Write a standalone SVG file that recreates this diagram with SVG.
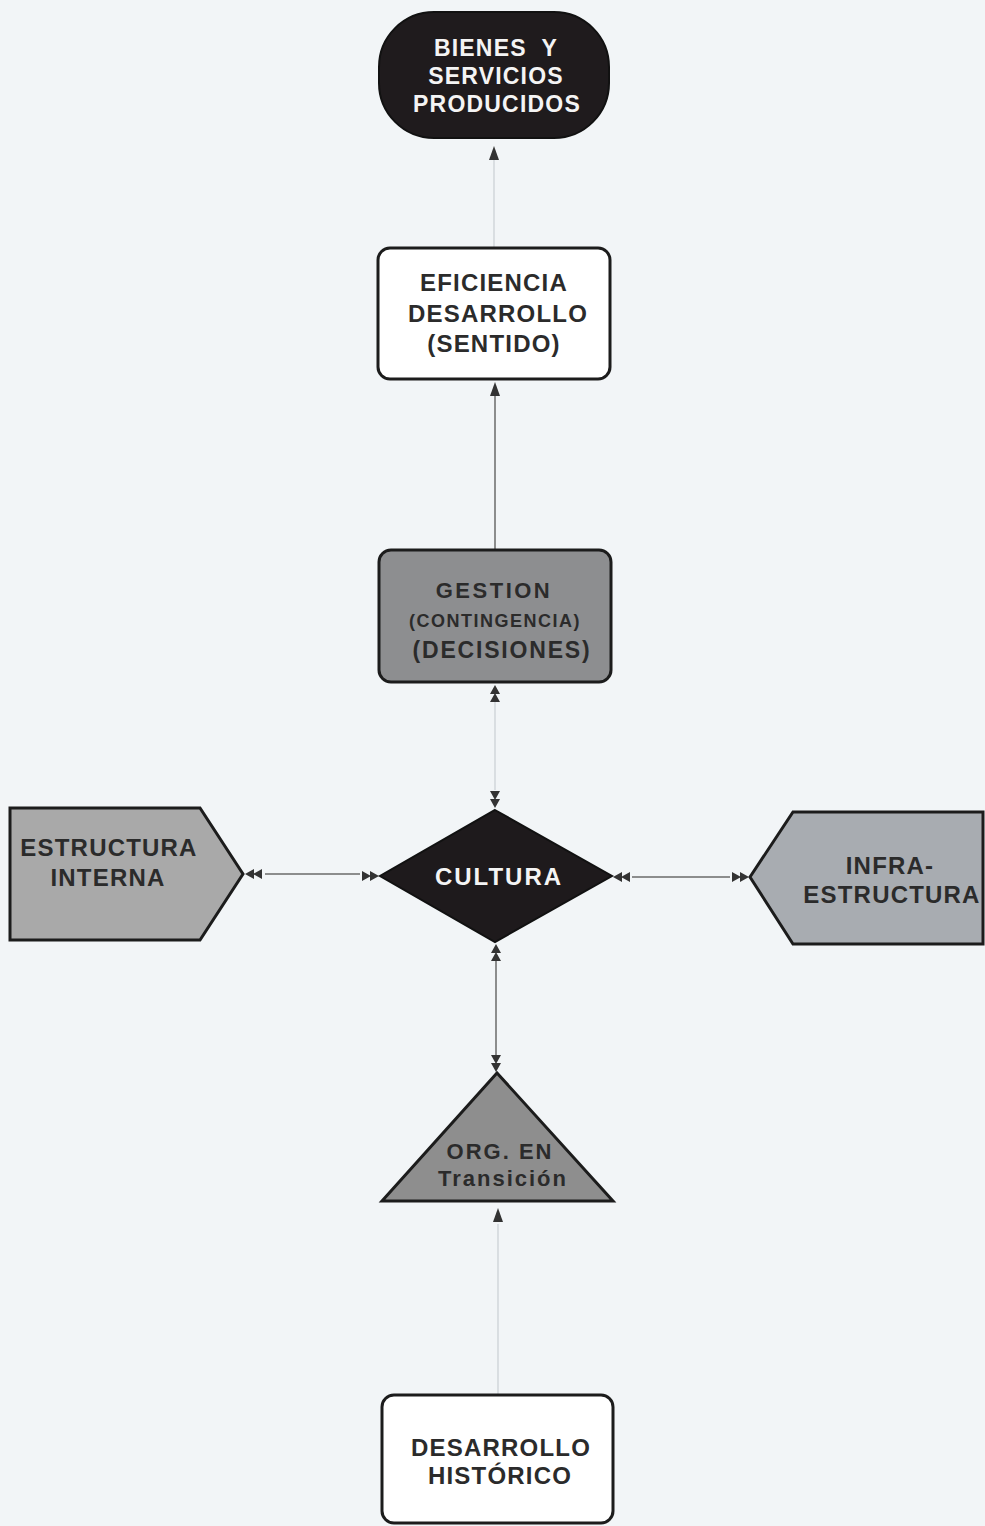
<svg xmlns="http://www.w3.org/2000/svg" width="985" height="1526" viewBox="0 0 985 1526">
<defs>
<style>
.t{font-family:"Liberation Sans",Arial,sans-serif;font-weight:bold;text-anchor:middle;letter-spacing:1.2px}
.dk{fill:#2b2b2b}
.wh{fill:#f4f4f4}
.ln{stroke:#6a6a6a;stroke-width:1.5;fill:none}
.fl{stroke:#c9cfd3;stroke-width:1.2;fill:none}
.ah{fill:#333}
</style>
</defs>
<rect width="985" height="1526" fill="#f2f5f7"/>
<g id="connectors">
<line class="fl" x1="494" y1="248" x2="494" y2="160"/>
<path class="ah" d="M494 146 L499 160 L489 160 Z"/>
<line class="ln" x1="495" y1="550" x2="495" y2="394"/>
<path class="ah" d="M495 382 L500 396 L490 396 Z"/>
<line class="fl" x1="495" y1="700" x2="495" y2="790"/>
<path class="ah" d="M495 685 L500 694 L490 694 Z M495 693 L500 702 L490 702 Z"/>
<path class="ah" d="M495 808 L500 799 L490 799 Z M495 800 L500 791 L490 791 Z"/>
<line class="ln" x1="265" y1="874" x2="360" y2="874"/>
<path class="ah" d="M245 874 L254 869 L254 879 Z M253 874 L262 869 L262 879 Z"/>
<path class="ah" d="M379 876 L370 871 L370 881 Z M371 876 L362 871 L362 881 Z"/>
<line class="ln" x1="632" y1="877" x2="730" y2="877"/>
<path class="ah" d="M613 877 L622 872 L622 882 Z M621 877 L630 872 L630 882 Z"/>
<path class="ah" d="M749 877 L740 872 L740 882 Z M741 877 L732 872 L732 882 Z"/>
<line class="ln" x1="496" y1="960" x2="496" y2="1055"/>
<path class="ah" d="M496 944 L501 953 L491 953 Z M496 952 L501 961 L491 961 Z"/>
<path class="ah" d="M496 1072 L501 1063 L491 1063 Z M496 1064 L501 1055 L491 1055 Z"/>
<line class="fl" x1="498" y1="1224" x2="498" y2="1395"/>
<path class="ah" d="M498 1208 L503 1222 L493 1222 Z"/>
</g>
<g id="bienes">
<rect x="379" y="12" width="230" height="126" rx="55" fill="#1f1b1d" stroke="#111" stroke-width="2"/>
<text class="t wh" x="496" y="56" font-size="23" xml:space="preserve">BIENES  Y</text>
<text class="t wh" x="496" y="84" font-size="23">SERVICIOS</text>
<text class="t wh" x="497" y="112" font-size="23">PRODUCIDOS</text>
</g>
<g id="eficiencia">
<rect x="378" y="248" width="232" height="131" rx="12" fill="#ffffff" stroke="#1c1c1c" stroke-width="3"/>
<text class="t dk" x="494" y="291" font-size="24">EFICIENCIA</text>
<text class="t dk" x="498" y="322" font-size="24">DESARROLLO</text>
<text class="t dk" x="494" y="352" font-size="24">(SENTIDO)</text>
</g>
<g id="gestion">
<rect x="379" y="550" width="232" height="132" rx="12" fill="#8d8e90" stroke="#1c1c1c" stroke-width="3"/>
<text class="t dk" x="494" y="598" font-size="22" style="letter-spacing:2.5px">GESTION</text>
<text class="t dk" x="495" y="627" font-size="18" style="letter-spacing:1.5px">(CONTINGENCIA)</text>
<text class="t dk" x="502" y="658" font-size="23" style="letter-spacing:1.8px">(DECISIONES)</text>
</g>
<g id="cultura">
<path d="M495 810 L612 876 L495 942 L380 876 Z" fill="#1e1a1c" stroke="#111" stroke-width="2"/>
<text class="t wh" x="499" y="885" font-size="24" style="letter-spacing:2px">CULTURA</text>
</g>
<g id="estructura">
<path d="M10 808 L200 808 L243 874 L200 940 L10 940 Z" fill="#a9a9a9" stroke="#1c1c1c" stroke-width="3"/>
<text class="t dk" x="109" y="856" font-size="24">ESTRUCTURA</text>
<text class="t dk" x="108" y="886" font-size="24">INTERNA</text>
</g>
<g id="infra">
<path d="M750 877 L793 812 L983 812 L983 944 L793 944 Z" fill="#a8acb1" stroke="#1c1c1c" stroke-width="3"/>
<text class="t dk" x="890" y="874" font-size="24">INFRA-</text>
<text class="t dk" x="892" y="903" font-size="24">ESTRUCTURA</text>
</g>
<g id="org">
<path d="M497 1073 L613 1201 L382 1201 Z" fill="#8e8e8e" stroke="#1c1c1c" stroke-width="3"/>
<text class="t dk" x="500" y="1159" font-size="22" style="letter-spacing:2px">ORG. EN</text>
<text class="t dk" x="503" y="1186" font-size="22" style="letter-spacing:2px">Transición</text>
</g>
<g id="desarrollo">
<rect x="382" y="1395" width="231" height="128" rx="12" fill="#ffffff" stroke="#1c1c1c" stroke-width="3"/>
<text class="t dk" x="501" y="1456" font-size="24">DESARROLLO</text>
<text class="t dk" x="500" y="1484" font-size="24">HISTÓRICO</text>
</g>
</svg>
